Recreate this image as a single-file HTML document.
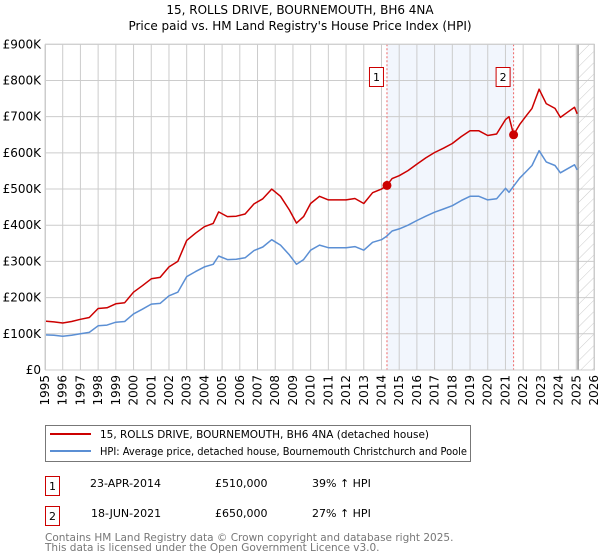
<!DOCTYPE html>
<html><head><meta charset="utf-8"><style>
body{margin:0;background:#fff;font-family:"DejaVu Sans","Liberation Sans",sans-serif;}
svg{display:block}
</style></head><body>
<svg id="chart" width="600" height="560" xmlns="http://www.w3.org/2000/svg" font-family="DejaVu Sans, Liberation Sans, sans-serif">
<text x="300" y="14" text-anchor="middle" font-size="12" fill="#000">15, ROLLS DRIVE, BOURNEMOUTH, BH6 4NA</text>
<text x="300" y="30" text-anchor="middle" font-size="12" fill="#000">Price paid vs. HM Land Registry's House Price Index (HPI)</text>
<defs><pattern id="hatch" width="8" height="8" patternUnits="userSpaceOnUse" patternTransform="rotate(45)"><line x1="0" y1="0" x2="0" y2="8" stroke="#ccc" stroke-width="1"/></pattern></defs>
<g id="grid"></g>
<g id="marks"></g>
<g id="axes"></g>
<g>
<rect x="45.5" y="425.5" width="425" height="36" fill="#fff" stroke="#777"/>
<line x1="50" y1="434" x2="91" y2="434" stroke="#cc0000" stroke-width="2"/>
<text x="100" y="438" font-size="10.5" textLength="329" lengthAdjust="spacingAndGlyphs">15, ROLLS DRIVE, BOURNEMOUTH, BH6 4NA (detached house)</text>
<line x1="50" y1="451" x2="91" y2="451" stroke="#5b8fd4" stroke-width="2"/>
<text x="100" y="455" font-size="10.5" textLength="367" lengthAdjust="spacingAndGlyphs">HPI: Average price, detached house, Bournemouth Christchurch and Poole</text>
</g>
<g font-size="11">
<rect x="45.5" y="476.5" width="14" height="19" fill="#fff" stroke="#cc0000"/>
<text x="52.5" y="490" text-anchor="middle">1</text>
<text x="90" y="487">23-APR-2014</text>
<text x="215" y="487">£510,000</text>
<text x="312" y="487">39% ↑ HPI</text>
<rect x="45.5" y="506.5" width="14" height="19" fill="#fff" stroke="#cc0000"/>
<text x="52.5" y="520" text-anchor="middle">2</text>
<text x="91" y="517">18-JUN-2021</text>
<text x="215" y="517">£650,000</text>
<text x="312" y="517">27% ↑ HPI</text>
</g>
<text x="45" y="541" font-size="10.5" fill="#777">Contains HM Land Registry data © Crown copyright and database right 2025.</text>
<text x="45" y="551" font-size="10.5" fill="#777">This data is licensed under the Open Government Licence v3.0.</text>
</svg>
<script>
const years=[1995,1995.5,1996,1996.5,1997,1997.5,1998,1998.5,1999,1999.5,2000,2000.5,2001,2001.5,2002,2002.5,2003,2003.5,2004,2004.5,2004.8,2005.3,2005.8,2006.3,2006.8,2007.3,2007.8,2008.3,2008.8,2009.2,2009.6,2010,2010.5,2011,2011.5,2012,2012.5,2013,2013.5,2014,2014.3,2014.6,2015,2015.5,2016,2016.5,2017,2017.5,2018,2018.5,2019,2019.5,2020,2020.5,2021,2021.2,2021.46,2021.8,2022.2,2022.5,2022.9,2023.3,2023.8,2024.1,2024.5,2024.9,2025.05];
const hpiValues=[97,96,93,96,100,104,122,124,132,134,155,168,182,184,205,215,258,272,285,292,315,305,306,310,330,340,360,345,318,292,305,331,345,338,338,338,341,331,353,360,370,384,390,400,413,425,436,445,454,468,480,480,470,473,502,491,508,530,550,565,606,575,565,545,556,567,553];
const propertyValues=[135,133,130,134,140,145,170,172,183,186,215,233,252,256,285,300,358,378,396,405,437,424,425,431,459,473,500,480,442,406,424,460,480,470,470,470,474,460,490,500,510,529,537,551,569,586,601,613,626,645,661,661,648,652,692,700,650,678,704,723,776,736,723,698,712,726,708];
const saleYears=[2014.31,2021.46];
const saleValues=[510,650];
const saleLabels=["1","2"];
const yTicks=[0,100,200,300,400,500,600,700,800,900];
const yTickLabels=["£0","£100K","£200K","£300K","£400K","£500K","£600K","£700K","£800K","£900K"];
const xTicks=[1995,1996,1997,1998,1999,2000,2001,2002,2003,2004,2005,2006,2007,2008,2009,2010,2011,2012,2013,2014,2015,2016,2017,2018,2019,2020,2021,2022,2023,2024,2025,2026];
const dataEndYear=2025.1;

const L=45,R=594,T=44.3,B=370,X0=1995,X1=2026,YMAX=900;
const sx=v=>L+(v-X0)/(X1-X0)*(R-L);
const sy=v=>B-v/YMAX*(B-T);
const NS="http://www.w3.org/2000/svg";
function mk(tag,attrs,parent){const e=document.createElementNS(NS,tag);for(const k in attrs)e.setAttribute(k,attrs[k]);parent.appendChild(e);return e;}
const grid=document.getElementById('grid'),marks=document.getElementById('marks'),axes=document.getElementById('axes');

let r=mk('rect',{x:sx(saleYears[0]),y:T,width:sx(saleYears[1])-sx(saleYears[0]),height:B-T,fill:'#f2f6fd'},grid);


r=mk('rect',{x:sx(dataEndYear),y:T,width:R-sx(dataEndYear),height:B-T,fill:'url(#hatch)'},grid);



yTicks.forEach((v,i)=>{
  const l=mk('line',{x1:L,x2:R,y1:sy(v),y2:sy(v),stroke:'#cccccc','stroke-width':1},grid);
  
  
  const t=mk('text',{x:L-4,y:sy(v)+4,'text-anchor':'end','font-size':12,fill:'#000'},axes);
  t.textContent=yTickLabels[i];
  
  
});
xTicks.forEach(v=>{
  const l=mk('line',{x1:sx(v),x2:sx(v),y1:T,y2:B,stroke:'#cccccc','stroke-width':1},grid);
  
  
  const t=mk('text',{x:0,y:0,'text-anchor':'end','font-size':12,fill:'#000',transform:`translate(${sx(v)+4},${B+5}) rotate(-90)`},axes);
  t.textContent=String(v);
  
  
});
let el=mk('line',{x1:sx(dataEndYear),x2:sx(dataEndYear),y1:T,y2:B,stroke:'#999','stroke-width':1.5},grid);



saleYears.forEach((v,i)=>{
  const l=mk('line',{x1:sx(v),x2:sx(v),y1:T,y2:B,stroke:'#ee6666','stroke-width':1,'stroke-dasharray':'2,2'},marks);
  
  
});

const pts=vals=>years.map((y,i)=>sx(y).toFixed(1)+','+sy(vals[i]).toFixed(1)).join(' ');
let p=mk('polyline',{points:pts(hpiValues),fill:'none',stroke:'#5b8fd4','stroke-width':1.5,'stroke-linejoin':'round'},marks);


p=mk('polyline',{points:pts(propertyValues),fill:'none',stroke:'#cc0000','stroke-width':1.5,'stroke-linejoin':'round'},marks);



saleYears.forEach((v,i)=>{
  const c=mk('circle',{cx:sx(v),cy:sy(saleValues[i]),r:4.5,fill:'#cc0000'},marks);
  
  
  const b=mk('rect',{x:sx(v)-17.5,y:67.5,width:14,height:19,fill:'#fff',stroke:'#cc0000'},marks);
  
  
  const t=mk('text',{x:sx(v)-10.5,y:81,'text-anchor':'middle','font-size':11,fill:'#000'},marks);
  t.textContent=saleLabels[i];
  
  
});
r=mk('rect',{x:L+0.5,y:T,width:R-L,height:B-T,fill:'none',stroke:'#cccccc'},axes);


</script>
</body></html>
